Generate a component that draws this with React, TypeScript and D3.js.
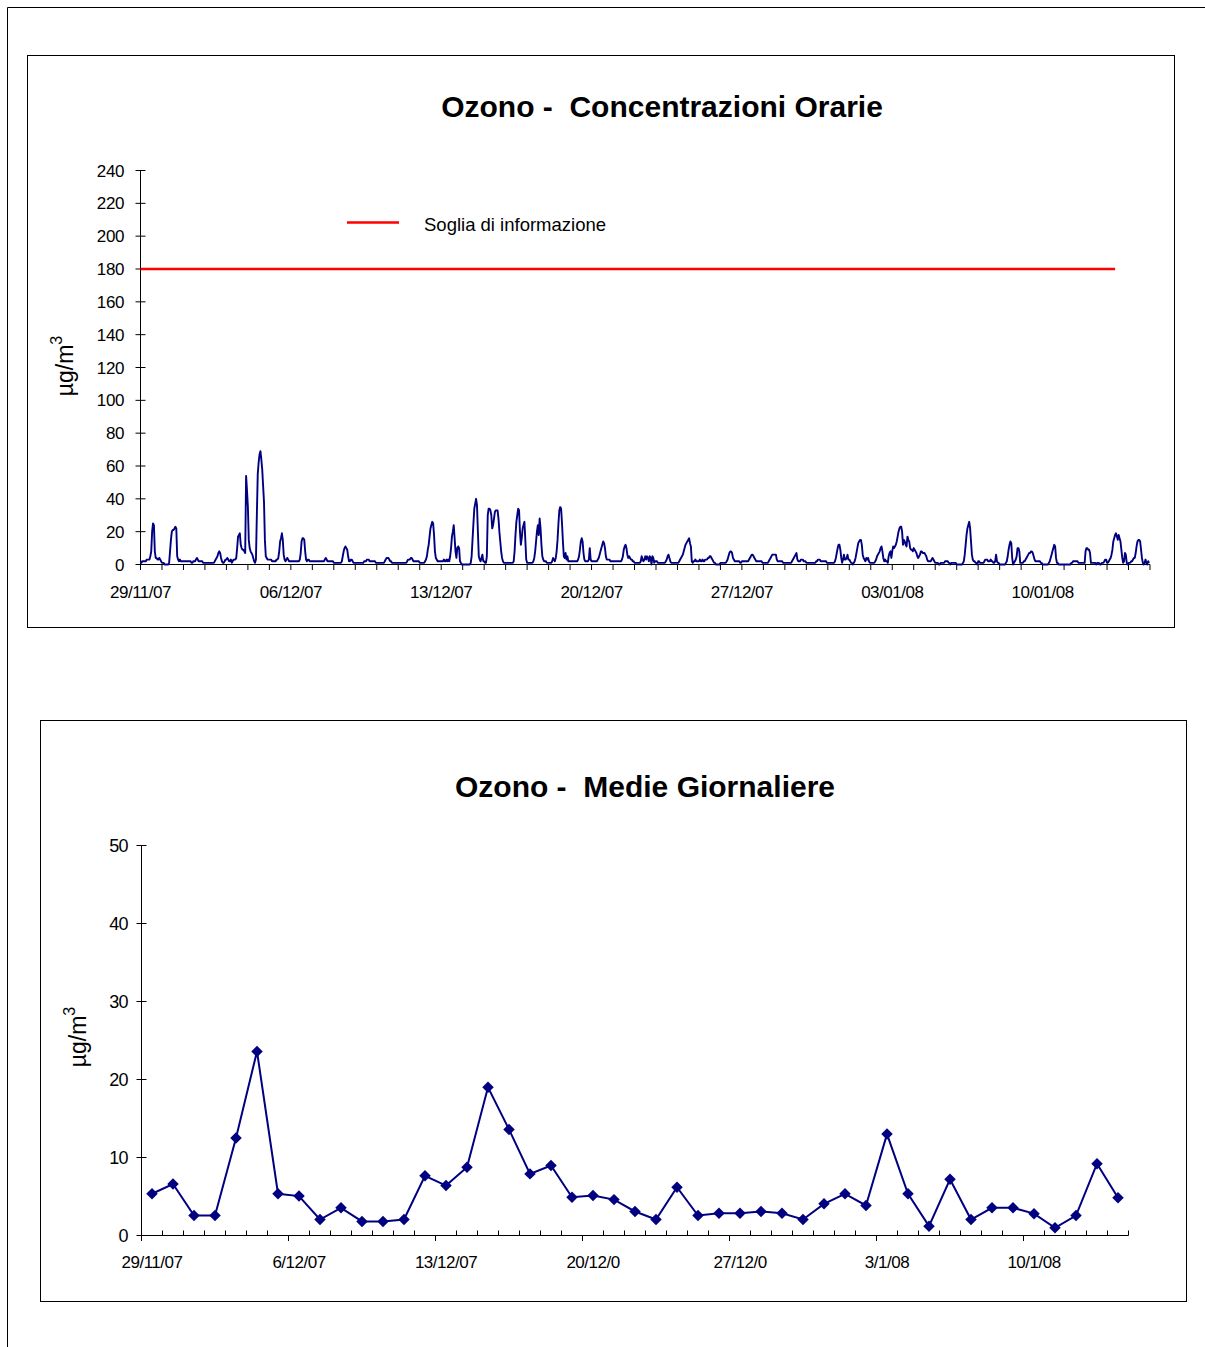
import React from "react";
import * as d3 from "d3";

// Hourly ozone concentrations (µg/m3), one row per day, 29/11/07 .. 14/01/08
const hourlyByDay: number[][] = [
  [2, 1, 2, 2, 2, 2, 2, 3, 3, 3, 3, 5, 8, 20, 25, 24, 8, 4, 4, 3, 3, 4, 3, 2],
  [1, 1, 1, 0, 0, 0, 0, 0, 1, 8, 15, 20, 21, 21, 22, 23, 22, 5, 3, 2, 3, 2, 2, 2],
  [2, 2, 2, 2, 2, 2, 2, 2, 2, 1, 1, 2, 2, 2, 3, 4, 3, 2, 2, 2, 2, 2, 1, 1],
  [1, 1, 1, 1, 1, 1, 1, 1, 1, 1, 1, 2, 3, 4, 5, 7, 8, 7, 4, 2, 1, 1, 2, 3],
  [3, 4, 3, 2, 2, 3, 1, 2, 3, 3, 3, 4, 10, 17, 18, 19, 12, 10, 9, 9, 8, 7, 54, 45],
  [35, 15, 10, 8, 7, 6, 4, 2, 1, 3, 30, 55, 62, 67, 69, 64, 58, 48, 38, 15, 5, 4, 3, 3],
  [3, 3, 3, 2, 2, 2, 2, 2, 3, 3, 4, 8, 14, 16, 19, 15, 6, 3, 2, 3, 4, 3, 2, 2],
  [2, 2, 2, 2, 2, 2, 2, 2, 2, 2, 3, 7, 14, 16, 16, 15, 8, 3, 2, 3, 3, 2, 2, 2],
  [2, 2, 2, 2, 2, 2, 2, 2, 2, 2, 2, 2, 2, 2, 3, 4, 3, 2, 2, 2, 2, 2, 2, 2],
  [1, 1, 1, 1, 1, 1, 1, 1, 1, 2, 5, 8, 10, 11, 10, 9, 5, 2, 2, 3, 3, 2, 1, 1],
  [1, 1, 1, 1, 1, 1, 1, 1, 1, 1, 2, 2, 2, 3, 3, 3, 2, 2, 2, 2, 2, 2, 2, 1],
  [1, 1, 1, 1, 1, 1, 1, 1, 1, 2, 3, 4, 4, 4, 3, 2, 2, 1, 1, 1, 1, 1, 1, 1],
  [1, 1, 1, 1, 1, 1, 1, 1, 1, 1, 2, 3, 3, 3, 4, 4, 3, 2, 2, 2, 2, 2, 2, 2],
  [1, 1, 1, 1, 1, 1, 2, 3, 5, 9, 12, 17, 22, 24, 26, 25, 18, 8, 4, 3, 2, 2, 2, 2],
  [2, 2, 2, 3, 2, 2, 3, 2, 3, 2, 5, 10, 17, 20, 24, 16, 8, 4, 10, 11, 10, 2, 1, 0],
  [0, 0, 0, 0, 0, 0, 0, 0, 0, 1, 5, 15, 25, 34, 37, 40, 36, 20, 5, 3, 2, 4, 6, 2],
  [2, 1, 1, 5, 30, 34, 34, 33, 30, 22, 24, 28, 32, 33, 33, 33, 28, 20, 14, 8, 4, 2, 1, 1],
  [1, 1, 1, 1, 1, 1, 1, 1, 1, 2, 8, 18, 26, 30, 34, 33, 20, 12, 16, 22, 24, 26, 15, 3],
  [1, 1, 1, 1, 1, 1, 1, 2, 4, 8, 14, 20, 24, 18, 28, 22, 12, 5, 3, 2, 2, 2, 1, 1],
  [1, 1, 1, 1, 2, 4, 3, 2, 4, 8, 15, 25, 33, 35, 34, 25, 14, 5, 4, 7, 3, 5, 2, 2],
  [2, 2, 2, 2, 2, 2, 2, 2, 2, 3, 5, 9, 14, 16, 14, 7, 3, 2, 2, 2, 2, 3, 10, 3],
  [2, 2, 2, 2, 2, 2, 2, 3, 4, 6, 8, 10, 12, 14, 13, 10, 5, 3, 3, 3, 3, 2, 2, 2],
  [2, 2, 2, 2, 2, 2, 2, 2, 2, 2, 3, 5, 9, 11, 12, 10, 6, 4, 5, 4, 3, 3, 2, 2],
  [1, 1, 1, 1, 1, 1, 1, 2, 5, 3, 2, 3, 5, 3, 5, 4, 2, 5, 4, 0, 5, 4, 1, 2],
  [2, 2, 1, 1, 1, 1, 1, 1, 1, 1, 1, 2, 3, 5, 6, 4, 2, 1, 1, 1, 1, 1, 1, 1],
  [1, 1, 2, 3, 4, 5, 6, 8, 10, 12, 13, 14, 15, 16, 13, 11, 2, 1, 2, 2, 3, 2, 2, 2],
  [2, 3, 2, 2, 3, 2, 2, 3, 3, 3, 4, 4, 5, 5, 4, 3, 2, 1, 1, 0, 0, 0, 0, 0],
  [1, 1, 1, 1, 1, 1, 1, 2, 3, 5, 7, 8, 8, 7, 4, 3, 2, 2, 2, 2, 2, 2, 1, 1],
  [2, 2, 2, 2, 2, 2, 2, 2, 3, 4, 5, 6, 6, 5, 4, 3, 2, 2, 2, 2, 2, 2, 2, 1],
  [1, 1, 1, 1, 1, 1, 2, 3, 4, 5, 6, 6, 6, 6, 6, 3, 2, 2, 2, 2, 2, 2, 1, 1],
  [1, 1, 1, 1, 1, 1, 1, 1, 2, 3, 4, 5, 6, 7, 3, 2, 2, 2, 3, 3, 3, 2, 2, 2],
  [1, 1, 1, 1, 1, 1, 1, 1, 1, 1, 1, 2, 2, 3, 3, 3, 2, 2, 2, 2, 2, 2, 2, 1],
  [1, 1, 1, 1, 1, 1, 1, 1, 2, 4, 7, 10, 12, 12, 9, 4, 1, 3, 6, 3, 3, 4, 6, 3],
  [3, 2, 1, 1, 0, 1, 2, 4, 7, 10, 13, 14, 15, 15, 12, 6, 4, 3, 2, 4, 3, 4, 2, 1],
  [1, 1, 1, 1, 1, 2, 3, 5, 6, 7, 8, 10, 11, 8, 4, 2, 3, 2, 2, 1, 5, 7, 8, 4],
  [8, 11, 10, 11, 12, 14, 17, 20, 22, 23, 23, 20, 12, 15, 14, 12, 11, 17, 15, 14, 10, 9, 9, 8],
  [10, 9, 8, 7, 5, 4, 5, 6, 8, 8, 7, 7, 7, 6, 5, 3, 2, 2, 2, 2, 3, 4, 3, 2],
  [1, 1, 1, 1, 0, 0, 1, 1, 1, 1, 1, 2, 2, 2, 2, 1, 1, 0, 1, 1, 1, 1, 1, 1],
  [0, 0, 0, 0, 0, 0, 0, 1, 2, 6, 12, 18, 22, 24, 26, 22, 14, 6, 3, 2, 2, 1, 1, 0],
  [2, 2, 1, 1, 1, 1, 1, 2, 3, 3, 3, 2, 2, 2, 3, 2, 2, 1, 1, 2, 6, 2, 1, 1],
  [0, 0, 0, 0, 0, 0, 0, 1, 2, 5, 9, 12, 14, 13, 4, 0, 1, 2, 3, 5, 10, 10, 8, 1],
  [1, 1, 1, 2, 2, 3, 4, 5, 6, 7, 7, 8, 8, 7, 5, 3, 2, 2, 2, 2, 2, 2, 1, 1],
  [0, 0, 0, 0, 0, 0, 0, 1, 2, 4, 6, 8, 10, 12, 11, 4, 1, 1, 0, 0, 0, 0, 0, 0],
  [0, 0, 0, 0, 0, 0, 0, 0, 1, 1, 2, 2, 2, 2, 2, 2, 1, 1, 1, 1, 1, 1, 1, 1],
  [8, 10, 10, 9, 9, 7, 1, 1, 1, 1, 1, 1, 0, 1, 1, 1, 0, 0, 1, 1, 1, 2, 3, 3],
  [1, 1, 2, 3, 4, 6, 9, 14, 16, 18, 19, 17, 15, 18, 16, 14, 9, 4, 1, 2, 7, 6, 1, 0],
  [1, 1, 1, 2, 2, 3, 4, 4, 7, 11, 14, 15, 15, 14, 9, 4, 1, 0, 1, 3, 1, 0, 2, 1],
];

// Daily means (µg/m3)
const dailyMeans: number[] = [
  5.35, 6.6, 2.56, 2.56, 12.5, 23.6, 5.35, 5.05, 2.05, 3.55, 1.8, 1.8, 2.05, 7.65, 6.4, 8.76,
  19.0, 13.6, 7.9, 8.97, 4.9, 5.13, 4.6, 3.08, 2.05, 6.2, 2.56, 2.86, 2.86, 3.08, 2.86, 2.05,
  4.06, 5.35, 3.85, 13.0, 5.35, 1.2, 7.2, 2.05, 3.55, 3.55, 2.8, 0.98, 2.56, 9.2, 4.83,
];

const topDateLabels = ["29/11/07", "06/12/07", "13/12/07", "20/12/07", "27/12/07", "03/01/08", "10/01/08"];
const bottomDateLabels = ["29/11/07", "6/12/07", "13/12/07", "20/12/0", "27/12/0", "3/1/08", "10/1/08"];
const topYTicks = [0, 20, 40, 60, 80, 100, 120, 140, 160, 180, 200, 220, 240];
const bottomYTicks = [0, 10, 20, 30, 40, 50];
const thresholdValue = 180;
const thresholdHours = [0, 1089];
const labelEveryDays = 7;

const FONT = "'Liberation Sans', Arial, Helvetica, sans-serif";
const NAVY = "#000080";

export default function App() {
  const hourly = hourlyByDay.flat();
  const nDays = hourlyByDay.length;

  // ---- top chart scales
  const xT = d3.scaleLinear().domain([0, nDays * 24]).range([140.5, 1150]);
  const yT = d3.scaleLinear().domain([0, 240]).range([564.5, 170.5]);
  const hourlyLine = d3
    .line<number>()
    .x((_, i) => xT(i))
    .y((d) => yT(d))(hourly) as string;
  const thresholdLine = d3
    .line<number>()
    .x((h) => xT(h))
    .y(() => yT(thresholdValue))(thresholdHours) as string;

  // ---- bottom chart scales
  const idx = d3.range(dailyMeans.length);
  const xB = d3.scaleBand<number>().domain(idx).range([141.5, 1128.5]).paddingInner(0).paddingOuter(0);
  const bw = xB.bandwidth();
  const yB = d3.scaleLinear().domain([0, 50]).range([1235.5, 845.5]);
  const dailyLine = d3
    .line<number>()
    .x((_, i) => (xB(i) as number) + bw / 2)
    .y((d) => yB(d))(dailyMeans) as string;
  const diamond = d3.symbol(d3.symbolSquare, 66)() as string;

  const dayTicks = d3.range(nDays + 1);
  const catBounds = d3.range(dailyMeans.length + 1);

  return (
    <svg
      width={1205}
      height={1347}
      style={{ position: "absolute", left: 0, top: 0, background: "#fff" }}
      fontFamily={FONT}
    >
      <rect x={0} y={0} width={1205} height={1347} fill="#fff" />
      {/* page border */}
      <line x1={7.5} y1={7.5} x2={1205} y2={7.5} stroke="#000" strokeWidth={1} />
      <line x1={7.5} y1={7.5} x2={7.5} y2={1347} stroke="#000" strokeWidth={1} />

      {/* ================= TOP CHART ================= */}
      <rect x={27.5} y={55.5} width={1147} height={572} fill="#fff" stroke="#000" strokeWidth={1} />
      <text
        x={662}
        y={117}
        textAnchor="middle"
        fontSize={30}
        fontWeight="bold"
        style={{ whiteSpace: "pre" }}
      >
        {"Ozono -  Concentrazioni Orarie"}
      </text>

      {/* legend */}
      <line x1={347} y1={222.5} x2={399} y2={222.5} stroke="#ff0000" strokeWidth={2.5} />
      <text x={424} y={231} fontSize={18.5}>
        Soglia di informazione
      </text>

      {/* y axis */}
      <line x1={140.5} y1={170.5} x2={140.5} y2={564.5} stroke="#000" />
      {topYTicks.map((v) => (
        <g key={"ty" + v}>
          <line x1={135.5} x2={145.5} y1={yT(v)} y2={yT(v)} stroke="#000" />
          <text x={124} y={yT(v) + 6} textAnchor="end" fontSize={17} letterSpacing={-0.4}>
            {v}
          </text>
        </g>
      ))}
      <text
        transform={`translate(73,366) rotate(-90)`}
        textAnchor="middle"
        fontSize={23}
      >
        µg/m<tspan dy={-11} fontSize={16}>3</tspan>
      </text>

      {/* x axis */}
      <line x1={140.5} y1={564.5} x2={1150} y2={564.5} stroke="#000" />
      {dayTicks.map((d) => (
        <line key={"tx" + d} x1={xT(d * 24)} x2={xT(d * 24)} y1={564.5} y2={570} stroke="#000" />
      ))}
      {topDateLabels.map((lab, k) => (
        <text
          key={"tl" + k}
          x={xT(k * labelEveryDays * 24)}
          y={598}
          textAnchor="middle"
          fontSize={17}
          letterSpacing={-0.5}
        >
          {lab}
        </text>
      ))}

      {/* threshold */}
      <path d={thresholdLine} stroke="#ff0000" strokeWidth={2.5} fill="none" />
      {/* hourly series */}
      <path d={hourlyLine} stroke={NAVY} strokeWidth={1.9} fill="none" strokeLinejoin="round" />

      {/* ================= BOTTOM CHART ================= */}
      <rect x={40.5} y={720.5} width={1146} height={581} fill="#fff" stroke="#000" strokeWidth={1} />
      <text
        x={645}
        y={797}
        textAnchor="middle"
        fontSize={30}
        fontWeight="bold"
        style={{ whiteSpace: "pre" }}
      >
        {"Ozono -  Medie Giornaliere"}
      </text>

      {/* y axis */}
      <line x1={141.5} y1={845.5} x2={141.5} y2={1235.5} stroke="#000" />
      {bottomYTicks.map((v) => (
        <g key={"by" + v}>
          <line x1={136.5} x2={146.5} y1={yB(v)} y2={yB(v)} stroke="#000" />
          <text x={128} y={yB(v) + 6.5} textAnchor="end" fontSize={18} letterSpacing={-0.6}>
            {v}
          </text>
        </g>
      ))}
      <text
        transform={`translate(86,1037) rotate(-90)`}
        textAnchor="middle"
        fontSize={23}
      >
        µg/m<tspan dy={-11} fontSize={16}>3</tspan>
      </text>

      {/* x axis */}
      <line x1={141.5} y1={1235.5} x2={1128.5} y2={1235.5} stroke="#000" />
      {catBounds.map((i) => {
        const x = 141.5 + i * bw;
        const major = i % labelEveryDays === 0;
        return (
          <line
            key={"bx" + i}
            x1={x}
            x2={x}
            y1={major ? 1235.5 : 1230.5}
            y2={major ? 1241 : 1235.5}
            stroke="#000"
          />
        );
      })}
      {bottomDateLabels.map((lab, k) => (
        <text
          key={"bl" + k}
          x={(xB(k * labelEveryDays) as number) + bw / 2}
          y={1268}
          textAnchor="middle"
          fontSize={17}
          letterSpacing={-0.5}
        >
          {lab}
        </text>
      ))}

      {/* daily series */}
      <path d={dailyLine} stroke={NAVY} strokeWidth={2} fill="none" />
      {dailyMeans.map((v, i) => (
        <path
          key={"m" + i}
          d={diamond}
          fill={NAVY}
          transform={`translate(${(xB(i) as number) + bw / 2},${yB(v)}) rotate(45)`}
        />
      ))}
    </svg>
  );
}
